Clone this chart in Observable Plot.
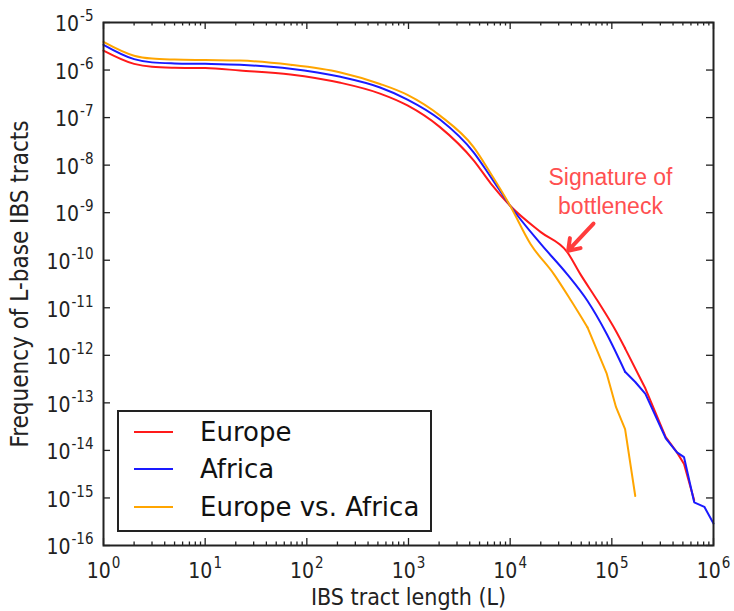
<!DOCTYPE html>
<html>
<head>
<meta charset="utf-8">
<script src="https://cdn.jsdelivr.net/npm/d3@7"></script>
<script src="https://cdn.jsdelivr.net/npm/@observablehq/plot@0.6"></script>
<style>
html, body { margin: 0; padding: 0; background: #fff; }
#wrap { position: relative; width: 734px; height: 611px; }
#legend { position: absolute; left: 117px; top: 410px; width: 315px; height: 122px; box-sizing: border-box;
  border: 2px solid #222; background: #fff; font-family: "DejaVu Sans"; font-size: 26px; color: #111; }
.row { position: absolute; left: 0; height: 30px; display: flex; align-items: center; white-space: nowrap; }
.sw { width: 39px; height: 0; border-top: 2.5px solid; margin-left: 15px; margin-right: 27px; }
</style>
</head>
<body>
<div id="wrap"></div>
<script>
// ---- data ----
const seriesNames = ["Europe", "Africa", "Europe vs. Africa"];
const seriesColors = ["#ff1a1a", "#1a1aff", "#ffa500"];

const europeX = [1, 2, 3, 5, 10, 22, 69, 214, 525, 977, 2040, 4370, 6460, 10000, 20000, 36300, 49000, 72400, 110000, 135000, 214000, 339000, 437000, 513000, 646000];
const europeY = [2.57e-6, 1.35e-6, 1.17e-6, 1.12e-6, 1.10e-6, 9.8e-7, 8.1e-7, 5.4e-7, 3.2e-7, 1.8e-7, 6.3e-8, 1.26e-8, 4.1e-9, 1.4e-9, 3.9e-10, 1.5e-10, 5.1e-11, 1.4e-11, 3.2e-12, 1.4e-12, 2.0e-13, 1.9e-14, 9.1e-15, 5.2e-15, 8.9e-16];

const africaX = [1, 2, 3, 5, 10, 22, 69, 214, 525, 977, 2040, 4370, 6460, 10000, 20000, 36300, 57500, 89100, 135000, 170000, 214000, 339000, 437000, 513000, 646000, 813000, 1000000];
const africaY = [3.4e-6, 1.7e-6, 1.45e-6, 1.38e-6, 1.35e-6, 1.29e-6, 1.07e-6, 7.2e-7, 4.3e-7, 2.4e-7, 9.1e-8, 1.86e-8, 5.6e-9, 1.4e-9, 2.2e-10, 5.1e-11, 1.4e-11, 2.8e-12, 4.5e-13, 2.75e-13, 1.55e-13, 1.8e-14, 9.1e-15, 7.2e-15, 8.1e-16, 6.5e-16, 2.9e-16];

const evaX = [1, 2, 3, 5, 10, 22, 69, 214, 525, 977, 2040, 4370, 6460, 10000, 15850, 26900, 39800, 57500, 89100, 110000, 135000, 170000];
const evaY = [3.9e-6, 2.0e-6, 1.74e-6, 1.66e-6, 1.62e-6, 1.58e-6, 1.29e-6, 8.9e-7, 5.1e-7, 3.0e-7, 1.1e-7, 2.4e-8, 6.6e-9, 1.4e-9, 2.2e-10, 5.1e-11, 1.4e-11, 3.9e-12, 4.1e-13, 8.1e-14, 2.8e-14, 1.1e-15];

// where each curve stops being smooth and becomes a jagged (straight-segment) tail
const smoothUntil = [135000, 135000, 57500];

const xTicks = [1, 10, 100, 1e3, 1e4, 1e5, 1e6];
const yTicks = [1e-16, 1e-15, 1e-14, 1e-13, 1e-12, 1e-11, 1e-10, 1e-9, 1e-8, 1e-7, 1e-6, 1e-5];
const xTitle = "IBS tract length (L)";
const yTitle = "Frequency of L-base IBS tracts";

const noteText = ["Signature of\nbottleneck"];
const noteX = [97000];
const noteY = [2.9e-9];
const arrowFrom = [66000, 5.9e-10];
const arrowTo = [36600, 1.53e-10];

// ---- build ----
const rows = [
  ...europeX.map((x, i) => ({series: seriesNames[0], s: 0, x, y: europeY[i]})),
  ...africaX.map((x, i) => ({series: seriesNames[1], s: 1, x, y: africaY[i]})),
  ...evaX.map((x, i) => ({series: seriesNames[2], s: 2, x, y: evaY[i]}))
];
const headRows = rows.filter(d => d.x <= smoothUntil[d.s]);
const tailRows = rows.filter(d => d.x >= smoothUntil[d.s]);
const xMinor = xTicks.slice(0, -1).flatMap(d => [2, 3, 4, 5, 6, 7, 8, 9].map(k => k * d));

const W = 734, H = 611, mt = 22, mr = 21, mb = 66, ml = 103;
const innerH = H - mt - mb, innerW = W - ml - mr;
const ink = "#222";
const expOf = d => String(Math.round(Math.log10(d))).replace("\u2212", "-");

const chart = Plot.plot({
  width: W, height: H,
  marginTop: mt, marginRight: mr, marginBottom: mb, marginLeft: ml,
  style: {fontFamily: "'DejaVu Sans Condensed', 'DejaVu Sans'", background: "#fff", color: ink},
  x: {type: "log", domain: [1, 1e6]},
  y: {type: "log", domain: [1e-16, 1e-5]},
  color: {domain: seriesNames, range: seriesColors},
  marks: [
    Plot.line(headRows, {x: "x", y: "y", z: "series", stroke: "series", strokeWidth: 2, curve: "monotone-x"}),
    Plot.line(tailRows, {x: "x", y: "y", z: "series", stroke: "series", strokeWidth: 2, strokeLinejoin: "miter"}),
    Plot.text(noteText, {x: noteX, y: noteY, text: d => d, fill: "#ff5050", fontSize: 23,
      fontFamily: "'Liberation Sans', Arial", lineHeight: 1.26, textAnchor: "middle", lineAnchor: "middle"}),
    Plot.arrow([0], {x1: () => arrowFrom[0], y1: () => arrowFrom[1], x2: () => arrowTo[0], y2: () => arrowTo[1],
      stroke: "#ff3c3c", strokeWidth: 4, headLength: 13, headAngle: 70, insetEnd: 1}),
    Plot.axisX({ticks: xTicks, tickSize: 0, tickPadding: 18, fontSize: 21, tickFormat: expOf, label: null}),
    Plot.axisY({ticks: yTicks, tickSize: 0, tickPadding: 10, fontSize: 21, dy: 2, tickFormat: expOf, label: null}),
    Plot.text([xTitle], {frameAnchor: "bottom", text: d => d, dy: 59, fontSize: 23, textAnchor: "middle", lineAnchor: "bottom", fill: ink}),
    Plot.text([yTitle], {frameAnchor: "left", text: d => d, dx: -76, rotate: -90, fontSize: 24, textAnchor: "middle", lineAnchor: "bottom", fill: ink}),
    // inward ticks, all four sides
    Plot.ruleX(xTicks, {x: d => d, insetTop: innerH - 7, stroke: ink, strokeWidth: 1.3}),
    Plot.ruleX(xTicks, {x: d => d, insetBottom: innerH - 7, stroke: ink, strokeWidth: 1.3}),
    Plot.ruleX(xMinor, {x: d => d, insetTop: innerH - 3.5, stroke: ink, strokeWidth: 1.3}),
    Plot.ruleX(xMinor, {x: d => d, insetBottom: innerH - 3.5, stroke: ink, strokeWidth: 1.3}),
    Plot.ruleY(yTicks, {y: d => d, insetRight: innerW - 7, stroke: ink, strokeWidth: 1.3}),
    Plot.ruleY(yTicks, {y: d => d, insetLeft: innerW - 7, stroke: ink, strokeWidth: 1.3}),
    Plot.frame({stroke: ink, strokeWidth: 2})
  ]
});

// superscript tick labels: "10" + exponent
const NS = "http://www.w3.org/2000/svg";
chart.querySelectorAll('[aria-label="x-axis tick label"] text, [aria-label="y-axis tick label"] text').forEach(t => {
  const e = t.textContent;
  t.textContent = "";
  const base = document.createElementNS(NS, "tspan");
  base.textContent = "10";
  const sup = document.createElementNS(NS, "tspan");
  sup.textContent = e;
  sup.setAttribute("dy", "-10");
  sup.setAttribute("dx", "1");
  sup.setAttribute("font-size", "15");
  t.appendChild(base);
  t.appendChild(sup);
});

const wrap = document.getElementById("wrap");
wrap.appendChild(chart);

const legend = document.createElement("div");
legend.id = "legend";
const rowTops = [5, 42, 80];
seriesNames.forEach((name, i) => {
  const r = document.createElement("div");
  r.className = "row";
  r.style.top = rowTops[i] + "px";
  const sw = document.createElement("span");
  sw.className = "sw";
  sw.style.borderTopColor = seriesColors[i];
  const tx = document.createElement("span");
  tx.textContent = name;
  r.appendChild(sw);
  r.appendChild(tx);
  legend.appendChild(r);
});
wrap.appendChild(legend);
</script>
</body>
</html>
